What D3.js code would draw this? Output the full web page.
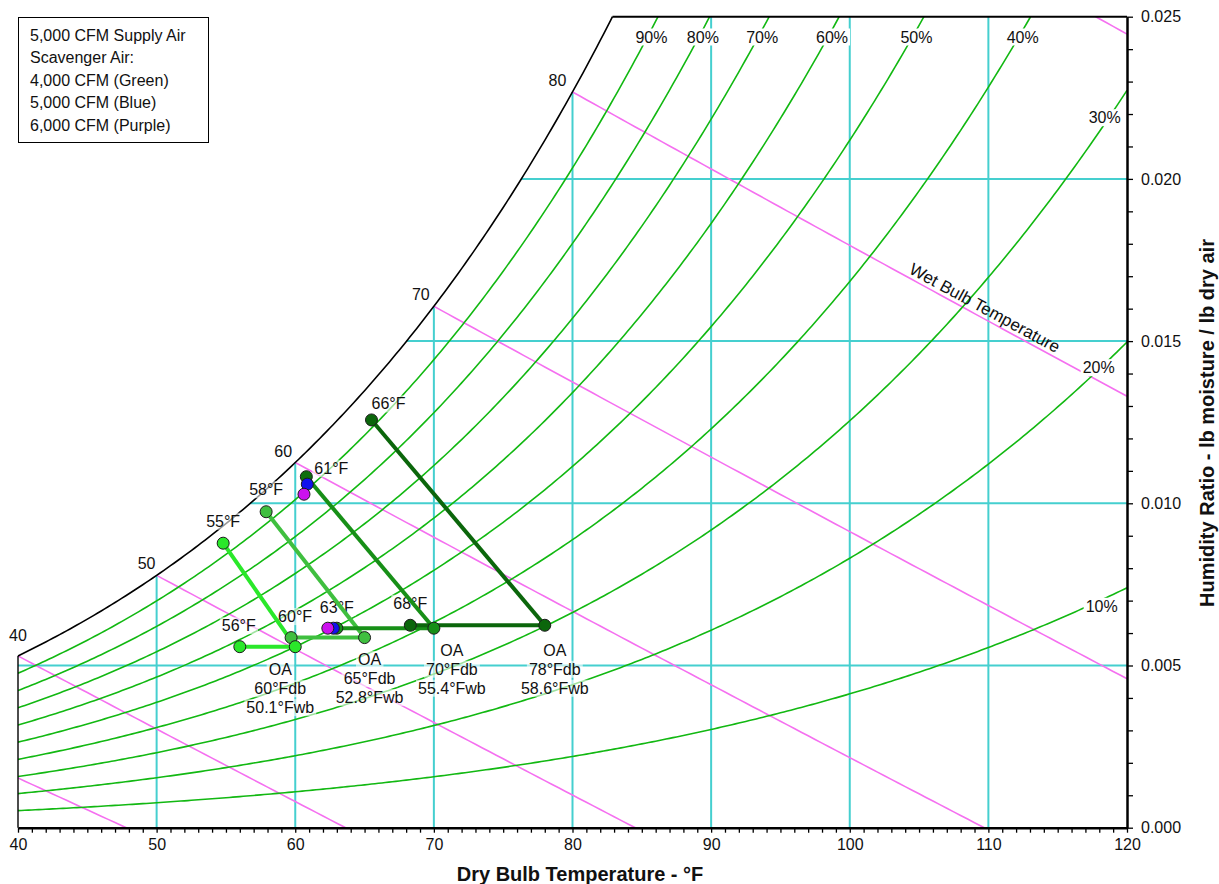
<!DOCTYPE html>
<html><head><meta charset="utf-8">
<script src="https://cdn.jsdelivr.net/npm/d3@7"></script>
<style>
body{margin:0;background:#fff}
svg{display:block}
text{font-family:"Liberation Sans",Arial,Helvetica,sans-serif;fill:#111}
</style>
</head><body>
<svg id="chart" width="1219" height="884"></svg>
<script>
// ---------------- data ----------------
const xTicks = [40, 50, 60, 70, 80, 90, 100, 110, 120];
const yTicks = [0.000, 0.005, 0.010, 0.015, 0.020, 0.025];
const gridT = [50, 60, 70, 80, 90, 100, 110];
const gridW = [0.005, 0.010, 0.015, 0.020];
const rhLevels = [0.1, 0.2, 0.3, 0.4, 0.5, 0.6, 0.7, 0.8, 0.9];
const rhLabels = ["10%", "20%", "30%", "40%", "50%", "60%", "70%", "80%", "90%"];
const wbTemps = [30, 40, 50, 60, 70, 80, 90];
const wbLabelTemps = [40, 50, 60, 70, 80];
const legendLines = ["5,000 CFM Supply Air", "Scavenger Air:", "4,000 CFM (Green)", "5,000 CFM (Blue)", "6,000 CFM (Purple)"];

// outdoor-air cases
const oaDb = [60, 65, 70, 78];
const oaWb = [50.1, 52.8, 55.4, 58.6];
const oaW = [0.00558, 0.00586, 0.00615, 0.00624];
const supplyT = [56, 59.7, 63.0, 68.3];
const supplyLabels = ["56°F", "60°F", "63°F", "68°F"];
const exhaustT = [54.8, 57.9, 60.8, 65.5];
const exhaustW = [0.00877, 0.00974, 0.01082, 0.01257];
const exhaustLabels = ["55°F", "58°F", "61°F", "66°F"];
// scavenger-air flow variants shown for the 70°F case
const flowNames = ["4,000 CFM", "5,000 CFM", "6,000 CFM"];
const flowSupplyT = [63.0, 62.75, 62.35];
const flowExhaustT = [60.83, 60.87, 60.63];
const flowExhaustW = [0.01082, 0.01059, 0.01028];

// ---------------- styling / layout ----------------
const caseColors = ["#2ae82a", "#3fbf3f", "#178f17", "#0b660b"];
const flowColors = ["#0d6e0d", "#1212ee", "#cc10ee"];
const supplyLabelOff = [[-1, -21], [4, -21], [0, -21], [0, -22]];
const exhaustLabelOff = [[0, -22], [0, -22], [25, -8], [17, -16]];
const oaLabelOff = [[-15, 23], [5, 22], [18, 22], [10, 25]];
const wbLabelOff = [[0, -20], [-10, -12], [-12, -11], [-13, -12], [-15, -11]];
const rhRightOff = [[1, 6], [-2, 0], [4, -12]];
const P_ATM = 14.42; // psia

const GRID = "#45cfcf", WBC = "#f570f0", RHC = "#12b812";

// ---------------- psychrometrics ----------------
function pws(tF) {
  const T = tF + 459.67;
  let ln;
  if (tF >= 32) {
    ln = -1.0440397e4 / T - 1.1294650e1 - 2.7022355e-2 * T + 1.2890360e-5 * T * T
      - 2.4780681e-9 * T * T * T + 6.5459673 * Math.log(T);
  } else {
    ln = -1.0214165e4 / T - 4.8932428 - 5.3765794e-3 * T + 1.9202377e-7 * T * T
      + 3.5575832e-10 * T ** 3 - 9.0344688e-14 * T ** 4 + 4.1635019 * Math.log(T);
  }
  return Math.exp(ln);
}
function wRH(t, rh) { const p = rh * pws(t); return 0.621945 * p / (P_ATM - p); }
function wWB(t, twb) {
  const ws = wRH(twb, 1);
  if (twb >= 32) return ((1093 - 0.556 * twb) * ws - 0.240 * (t - twb)) / (1093 + 0.444 * t - twb);
  return ((1220 - 0.04 * twb) * ws - 0.240 * (t - twb)) / (1220 + 0.444 * t - 0.48 * twb);
}
function tAtW(w, rh) {
  let lo = 0, hi = 200;
  for (let i = 0; i < 60; i++) { const m = (lo + hi) / 2; if (wRH(m, rh) < w) lo = m; else hi = m; }
  return (lo + hi) / 2;
}

// ---------------- chart ----------------
const svg = d3.select("#chart");
const x = d3.scaleLinear().domain([40, 120]).range([18, 1127]);
const y = d3.scaleLinear().domain([0, 0.025]).range([827.7, 16.7]);
const line = d3.line().x(d => x(d[0])).y(d => y(d[1]));

svg.append("defs").append("clipPath").attr("id", "plot")
  .append("rect").attr("x", x(40)).attr("y", y(0.025))
  .attr("width", x(120) - x(40)).attr("height", y(0) - y(0.025));

const plot = svg.append("g").attr("clip-path", "url(#plot)");
const tSat25 = tAtW(0.025, 1);

// grid
gridT.forEach(t => {
  plot.append("line").attr("x1", x(t)).attr("x2", x(t))
    .attr("y1", y(0)).attr("y2", y(Math.min(wRH(t, 1), 0.025)))
    .attr("stroke", GRID).attr("stroke-width", 2);
});
gridW.forEach(w => {
  plot.append("line").attr("x1", x(Math.max(40, tAtW(w, 1)))).attr("x2", x(120))
    .attr("y1", y(w)).attr("y2", y(w))
    .attr("stroke", GRID).attr("stroke-width", 2);
});

// wet bulb lines
wbTemps.forEach(twb => {
  const pts = [];
  for (let t = Math.max(twb, 40); t <= 120.001; t += 0.5) pts.push([t, wWB(t, twb)]);
  plot.append("path").attr("d", line(pts)).attr("fill", "none")
    .attr("stroke", WBC).attr("stroke-width", 1.6);
});

// RH curves
rhLevels.forEach(rh => {
  const pts = [];
  for (let t = 40; t <= 120.001; t += 0.25) pts.push([t, wRH(t, rh)]);
  plot.append("path").attr("d", line(pts)).attr("fill", "none")
    .attr("stroke", RHC).attr("stroke-width", 1.6);
});

// saturation curve
{
  const pts = [];
  for (let t = 40; t < tSat25; t += 0.25) pts.push([t, wRH(t, 1)]);
  pts.push([tSat25, 0.025]);
  svg.append("path").attr("d", line(pts)).attr("fill", "none")
    .attr("stroke", "#000").attr("stroke-width", 1.6);
}
// borders
svg.append("line").attr("x1", x(40)).attr("x2", x(40)).attr("y1", y(0)).attr("y2", y(wRH(40, 1)))
  .attr("stroke", "#000").attr("stroke-width", 1.4);
svg.append("line").attr("x1", x(tSat25)).attr("x2", x(120)).attr("y1", y(0.025)).attr("y2", y(0.025))
  .attr("stroke", "#000").attr("stroke-width", 2);

// axes
const xAxis = d3.axisBottom(x).tickValues(d3.range(40, 120.5, 1)).tickSize(5).tickSizeOuter(0).tickPadding(6)
  .tickFormat(d => xTicks.includes(d) ? String(d) : "");
const gx = svg.append("g").attr("transform", `translate(0,${y(0)})`).call(xAxis);
const yAxis = d3.axisRight(y).tickValues(d3.range(0, 26, 1).map(i => i / 1000)).tickSize(6).tickSizeOuter(0).tickPadding(8)
  .tickFormat(d => yTicks.some(v => Math.abs(v - d) < 1e-9) ? d3.format(".3f")(d) : "");
const gy = svg.append("g").attr("transform", `translate(${x(120)},0)`).call(yAxis);
[gx, gy].forEach(g => {
  g.select(".domain").attr("stroke", "#000").attr("stroke-width", 2.5);
  g.selectAll(".tick line").attr("stroke", "#000").attr("stroke-width", 1.3);
  g.selectAll(".tick text").attr("font-size", 16).attr("fill", "#111")
    .attr("font-family", "'Liberation Sans',Arial,sans-serif");
});

svg.append("text").attr("x", 580).attr("y", 881).attr("text-anchor", "middle")
  .attr("font-size", 20).attr("font-weight", "bold").text("Dry Bulb Temperature - °F");
svg.append("text").attr("transform", "translate(1214,423) rotate(-90)").attr("text-anchor", "middle")
  .attr("font-size", 20).attr("font-weight", "bold").text("Humidity Ratio - lb moisture / lb dry air");

// label helper
const labelLayer = svg.append("g");
function label(cx, cy, txt, opacity, size) {
  const g = labelLayer.append("g");
  const r = g.append("rect");
  const t = g.append("text").attr("x", cx).attr("y", cy).attr("text-anchor", "middle")
    .attr("dominant-baseline", "central").attr("font-size", size || 16).text(txt);
  const b = t.node().getBBox();
  r.attr("x", b.x - 2).attr("y", b.y).attr("width", b.width + 4).attr("height", b.height)
    .attr("fill", "#fff").attr("fill-opacity", opacity);
  return g;
}

// RH labels
const wTop = y.invert(37);
rhLevels.forEach((rh, i) => {
  if (rh >= 0.4) {
    const t = tAtW(wTop, rh);
    label(x(t) + 4, 37, rhLabels[i], 1);
  } else {
    const t = 118.1;
    label(x(t) + rhRightOff[i][0], y(wRH(t, rh)) + rhRightOff[i][1], rhLabels[i], 1);
  }
});

// wet bulb labels
wbLabelTemps.forEach((t, i) => {
  label(x(t) + wbLabelOff[i][0], y(wRH(t, 1)) + wbLabelOff[i][1], String(t), 0.6);
});

// "Wet Bulb Temperature" along the 80°F line
{
  const t0 = 109.4, t1 = 110.4;
  const px0 = x(t0), py0 = y(wWB(t0, 80)), px1 = x(t1), py1 = y(wWB(t1, 80));
  const ang = Math.atan2(py1 - py0, px1 - px0) * 180 / Math.PI;
  svg.append("text").attr("transform", `translate(${px0},${py0}) rotate(${ang})`)
    .attr("text-anchor", "middle").attr("dy", -4).attr("font-size", 17).text("Wet Bulb Temperature");
}

// process lines
const proc = svg.append("g");
oaDb.forEach((t, i) => {
  proc.append("path").attr("d", line([[exhaustT[i], exhaustW[i]], [t, oaW[i]]]))
    .attr("stroke", caseColors[i]).attr("stroke-width", 4).attr("fill", "none");
  proc.append("path").attr("d", line([[supplyT[i], oaW[i]], [t, oaW[i]]]))
    .attr("stroke", caseColors[i]).attr("stroke-width", 4).attr("fill", "none");
});
function marker(t, w, c) {
  proc.append("circle").attr("cx", x(t)).attr("cy", y(w)).attr("r", 6)
    .attr("fill", c).attr("stroke", "#1c1c1c").attr("stroke-width", 1);
}
oaDb.forEach((t, i) => {
  marker(exhaustT[i], exhaustW[i], i === 2 ? flowColors[0] : caseColors[i]);
  marker(supplyT[i], oaW[i], caseColors[i]);
});
flowNames.forEach((n, j) => {
  if (j === 0) return;
  marker(flowSupplyT[j], oaW[2], flowColors[j]);
  marker(flowExhaustT[j], flowExhaustW[j], flowColors[j]);
});
oaDb.forEach((t, i) => marker(t, oaW[i], caseColors[i]));

// process labels
oaDb.forEach((t, i) => {
  label(x(supplyT[i]) + supplyLabelOff[i][0], y(oaW[i]) + supplyLabelOff[i][1], supplyLabels[i], 0.6);
  label(x(exhaustT[i]) + exhaustLabelOff[i][0], y(exhaustW[i]) + exhaustLabelOff[i][1], exhaustLabels[i], 0.6);
  const cx = x(t) + oaLabelOff[i][0], cy = y(oaW[i]) + oaLabelOff[i][1];
  label(cx, cy, "OA", 0.6);
  label(cx, cy + 19, `${t}°Fdb`, 0.6);
  label(cx, cy + 38, `${oaWb[i]}°Fwb`, 0.6);
});

// legend box
{
  const lg = svg.append("g");
  lg.append("rect").attr("x", 18.5).attr("y", 17.5).attr("width", 190).attr("height", 125)
    .attr("fill", "#fff").attr("stroke", "#000").attr("stroke-width", 1);
  legendLines.forEach((s, i) => {
    lg.append("text").attr("x", 30).attr("y", 35 + i * 22.5).attr("dominant-baseline", "central")
      .attr("font-family", "Lato,'Open Sans',sans-serif").attr("font-size", 16).text(s);
  });
}
</script>
</body></html>
